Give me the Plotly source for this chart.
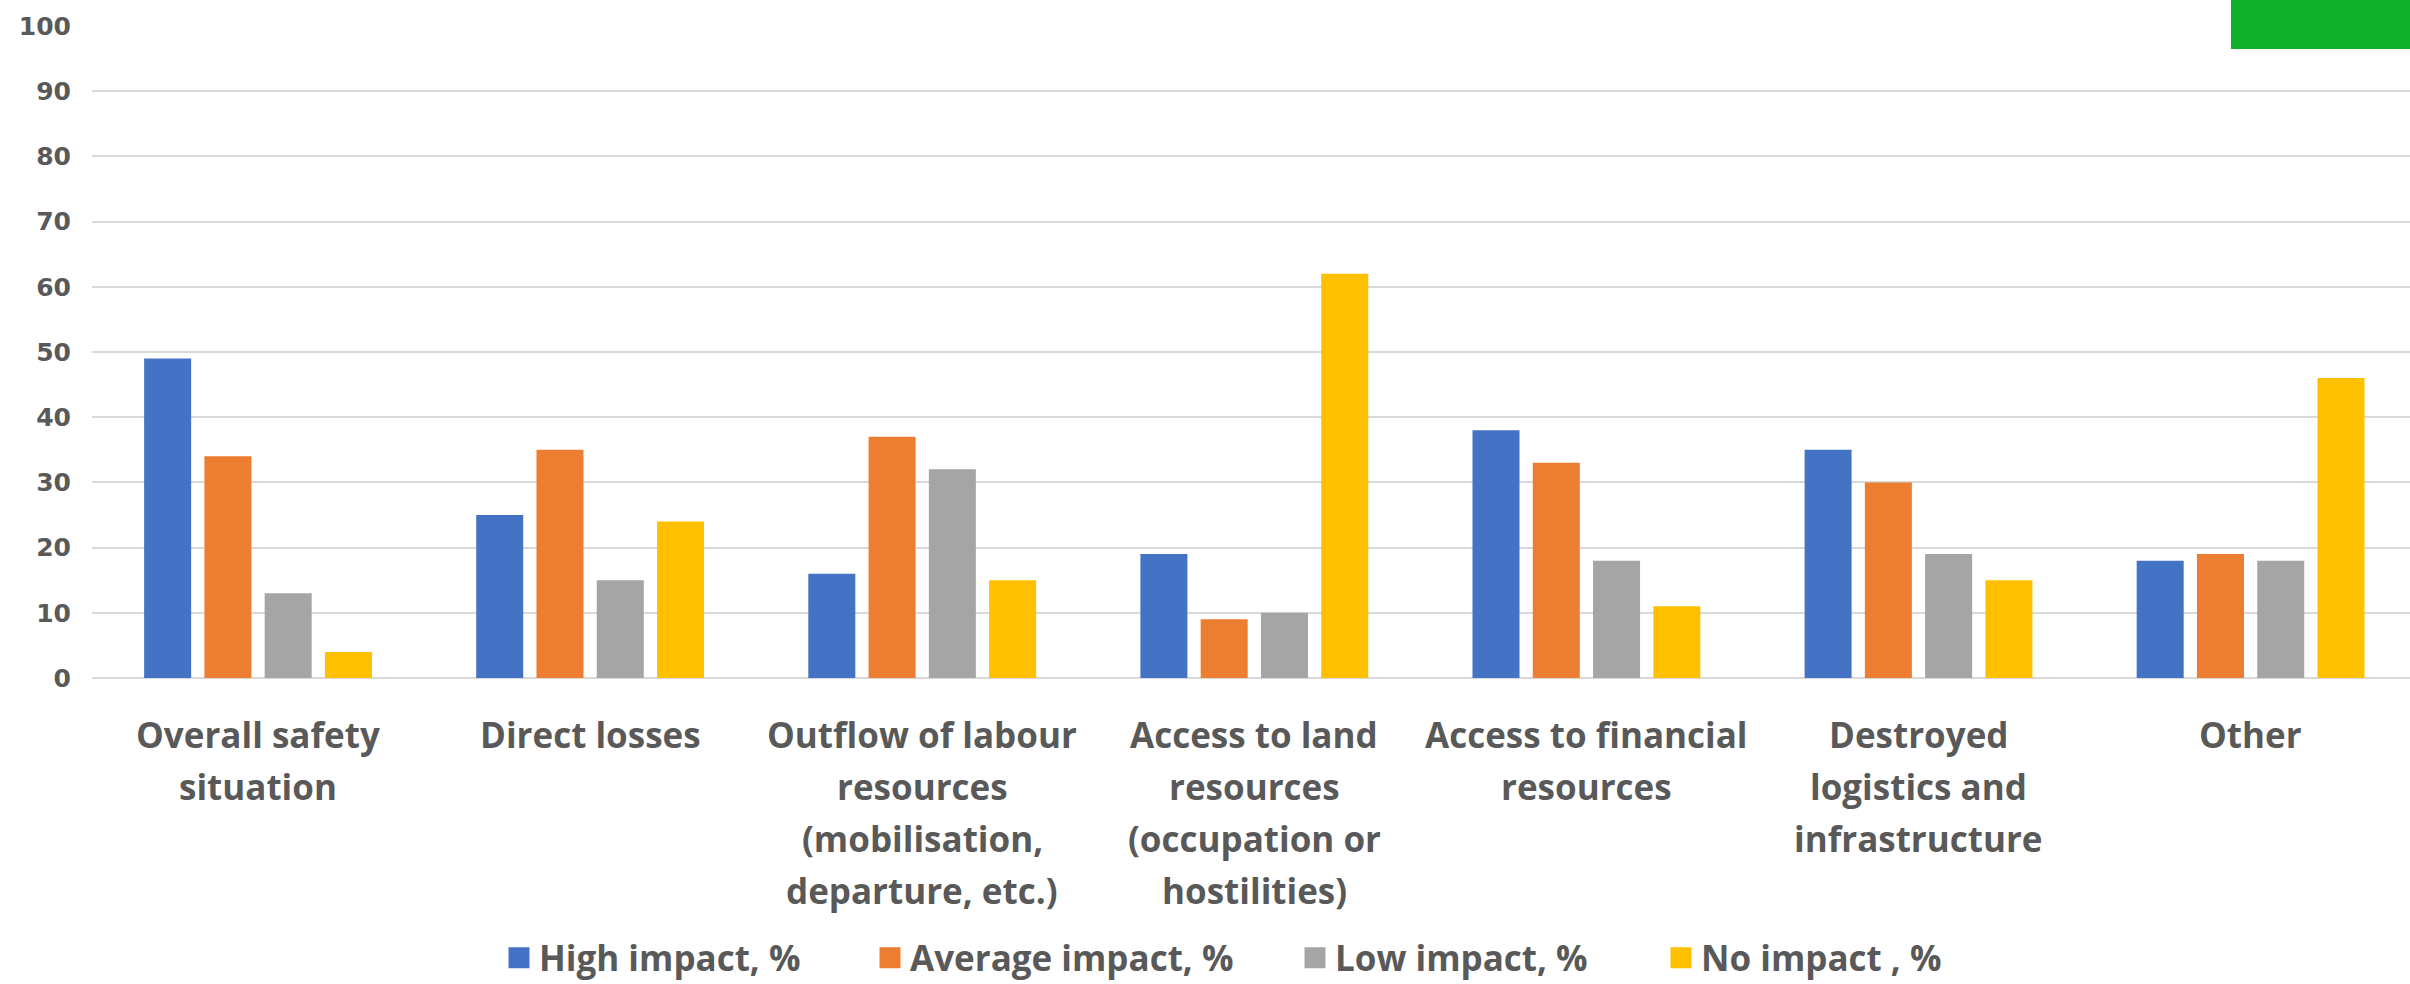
import plotly.graph_objects as go

# Survey: impact of war-related factors on farm activity
categories = [
    "Overall safety<br>situation",
    "Direct losses",
    "Outflow of labour<br>resources<br>(mobilisation,<br>departure, etc.)",
    "Access to land<br>resources<br>(occupation or<br>hostilities)",
    "Access to financial<br>resources",
    "Destroyed<br>logistics and<br>infrastructure",
    "Other",
]
series_names = ["High impact, %", "Average impact, %", "Low impact, %", "No impact , %"]
high_impact = [49, 25, 16, 19, 38, 35, 18]
average_impact = [34, 35, 37, 9, 33, 30, 19]
low_impact = [13, 15, 32, 10, 18, 19, 18]
no_impact = [4, 24, 15, 62, 11, 15, 46]
y_ticks = [0, 10, 20, 30, 40, 50, 60, 70, 80, 90, 100]

series_values = [high_impact, average_impact, low_impact, no_impact]
colors = ["#4472C4", "#ED7D31", "#A5A5A5", "#FFC000"]

W, H = 2410, 984
left, right, top, bottom = 92, 0, 26, 306
plot_w = W - left - right
plot_h = H - top - bottom

TEXT = "#595959"
FONT = "Open Sans"

fig = go.Figure()

for name, vals, col in zip(series_names, series_values, colors):
    fig.add_trace(go.Bar(x=categories, y=vals, name=name, marker=dict(color=col, line=dict(width=0)),
                         showlegend=False))

# One legend per series so each entry sits where it belongs under the chart
legend_left_px = [499, 870, 1295, 1661]
legend_ids = ["legend", "legend2", "legend3", "legend4"]
legend_y = (H - bottom - 958) / plot_h
for name, col, lid in zip(series_names, colors, legend_ids):
    fig.add_trace(go.Scatter(
        x=[None], y=[None], mode="markers", name=name, legend=lid,
        marker=dict(symbol="square", size=16, color=col, line=dict(width=5, color=col)),
    ))

legend_layout = {}
for lid, px in zip(legend_ids, legend_left_px):
    legend_layout[lid] = dict(
        orientation="h", x=(px - left) / plot_w, xanchor="left", y=legend_y, yanchor="middle",
        font=dict(family=FONT, size=35, color=TEXT, weight="bold"),
        bgcolor="rgba(0,0,0,0)", itemclick=False, itemdoubleclick=False,
    )

# Category labels, one annotation per line
line_gap = 52.3
first_line_px = 734
annotations = []
for cat in categories:
    for i, line in enumerate(cat.split("<br>")):
        py = first_line_px + i * line_gap
        annotations.append(dict(
            x=cat, xref="x", y=(H - bottom - py) / plot_h, yref="paper",
            text=line, showarrow=False, xanchor="center", yanchor="middle",
            font=dict(family=FONT, size=35, color=TEXT, weight="bold"),
        ))

fig.update_layout(
    width=W, height=H,
    margin=dict(l=left, r=right, t=top, b=bottom, pad=0, autoexpand=False),
    paper_bgcolor="white", plot_bgcolor="white",
    barmode="group", bargap=0.274, bargroupgap=0.22,
    annotations=annotations,
    shapes=[dict(type="rect", xref="paper", yref="paper",
                 x0=(2231 - left) / plot_w, x1=1.0,
                 y0=(H - bottom - 49) / plot_h, y1=(H - bottom) / plot_h + 0.01,
                 fillcolor="#10B02B", line=dict(width=0), layer="above")],
    **legend_layout,
)

fig.update_xaxes(
    type="category", range=[-0.5, 6.48], showticklabels=False, showgrid=False,
    zeroline=False, showline=False, ticks="",
)
fig.update_yaxes(
    range=[0, 100], tickvals=y_ticks, ticktext=[str(v) for v in y_ticks],
    showgrid=True, gridcolor="#D9D9D9", gridwidth=2,
    zeroline=True, zerolinecolor="#D9D9D9", zerolinewidth=2,
    showline=False, ticks="", ticklabelstandoff=20,
    tickfont=dict(family="DejaVu Sans", size=25, color=TEXT, weight="bold"),
)

fig.write_html("out.html")
